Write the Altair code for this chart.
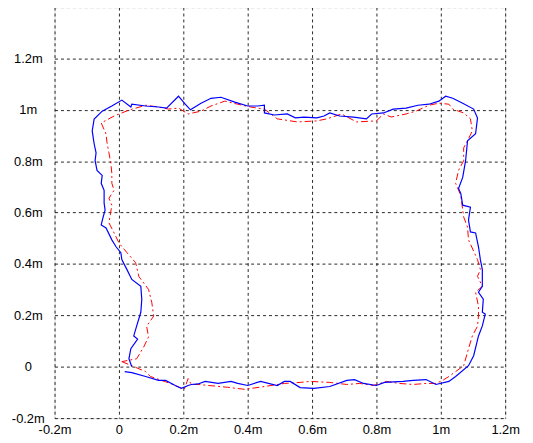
import altair as alt
import pandas as pd

# Blue (solid) trajectory, metres
blue_x = [0.018, 0.040, 0.083, 0.123, 0.145, 0.175, 0.194, 0.215, 0.225, 0.246, 0.268, 0.308, 0.348, 0.369, 0.400,
          0.440, 0.492, 0.514, 0.532, 0.563, 0.606, 0.655, 0.708, 0.732, 0.760, 0.800, 0.825, 0.883, 0.914, 0.954,
          0.985, 1.025, 1.046, 1.086, 1.102, 1.117, 1.129, 1.138, 1.129, 1.132, 1.117, 1.129, 1.129, 1.123, 1.117,
          1.108, 1.092, 1.086, 1.092, 1.068, 1.062, 1.055, 1.068, 1.077, 1.083, 1.108, 1.114, 1.102, 1.068, 1.037,
          1.015, 0.994, 0.963, 0.929, 0.892, 0.852, 0.822, 0.785, 0.769, 0.729, 0.686, 0.655, 0.637, 0.615, 0.575,
          0.548, 0.523, 0.483, 0.452, 0.452, 0.431, 0.400, 0.360, 0.317, 0.286, 0.255, 0.231, 0.222, 0.206, 0.185,
          0.148, 0.123, 0.083, 0.040, 0.037, 0.009, -0.022, -0.052, -0.077, -0.083, -0.077, -0.071, -0.074, -0.068,
          -0.052, -0.055, -0.046, -0.046, -0.043, -0.049, -0.055, -0.040, -0.022, -0.009, 0.006, 0.009, 0.025, 0.040,
          0.068, 0.071, 0.068, 0.055, 0.046, 0.058, 0.037, 0.031, 0.040]
blue_y = [-0.019, -0.023, -0.038, -0.053, -0.053, -0.073, -0.084, -0.073, -0.069, -0.067, -0.057, -0.065, -0.057,
          -0.065, -0.073, -0.057, -0.073, -0.057, -0.057, -0.081, -0.084, -0.077, -0.053, -0.050, -0.065, -0.073,
          -0.061, -0.057, -0.053, -0.050, -0.069, -0.057, -0.038, 0.004, 0.043, 0.120, 0.159, 0.205, 0.212, 0.263,
          0.290, 0.313, 0.378, 0.416, 0.467, 0.521, 0.525, 0.571, 0.621, 0.629, 0.675, 0.694, 0.737, 0.802, 0.880,
          0.907, 0.968, 1.003, 1.026, 1.045, 1.053, 1.034, 1.022, 1.018, 1.007, 1.003, 0.988, 0.984, 0.965, 0.972,
          0.976, 0.988, 0.976, 0.969, 0.972, 0.969, 0.984, 0.980, 0.988, 1.018, 1.015, 1.015, 1.030, 1.049, 1.045,
          1.026, 1.007, 1.000, 1.022, 1.053, 1.007, 1.011, 1.015, 1.022, 1.011, 1.038, 1.015, 0.995, 0.964, 0.918,
          0.868, 0.833, 0.802, 0.764, 0.745, 0.714, 0.687, 0.637, 0.610, 0.583, 0.552, 0.540, 0.494, 0.467, 0.444,
          0.417, 0.378, 0.340, 0.313, 0.263, 0.212, 0.158, 0.120, 0.108, 0.070, 0.031, 0.000]

# Red (dash-dot) trajectory, metres
red_x = [0.009, 0.040, 0.083, 0.098, 0.132, 0.160, 0.194, 0.203, 0.215, 0.225, 0.246, 0.338, 0.391, 0.452, 0.514,
         0.563, 0.594, 0.655, 0.708, 0.748, 0.791, 0.831, 0.871, 0.914, 0.954, 0.985, 1.006, 1.025, 1.046, 1.071,
         1.086, 1.098, 1.114, 1.117, 1.117, 1.108, 1.129, 1.114, 1.123, 1.114, 1.086, 1.083, 1.071, 1.062, 1.046,
         1.055, 1.071, 1.071, 1.083, 1.098, 1.092, 1.071, 1.037, 1.025, 0.994, 0.963, 0.923, 0.892, 0.846, 0.822,
         0.800, 0.738, 0.692, 0.646, 0.615, 0.554, 0.492, 0.452, 0.409, 0.369, 0.329, 0.286, 0.255, 0.215, 0.185,
         0.154, 0.123, 0.083, 0.031, -0.015, -0.055, -0.040, -0.037, -0.031, -0.025, -0.022, -0.022, -0.015, -0.031,
         -0.022, -0.031, -0.015, 0.000, 0.025, 0.052, 0.062, 0.092, 0.102, 0.108, 0.086, 0.092, 0.077, 0.055, 0.009]
red_y = [0.020, 0.004, -0.019, -0.038, -0.053, -0.065, -0.084, -0.088, -0.046, -0.069, -0.069, -0.080, -0.088,
         -0.077, -0.065, -0.061, -0.057, -0.061, -0.069, -0.065, -0.073, -0.057, -0.065, -0.069, -0.065, -0.065,
         -0.053, -0.038, -0.019, 0.004, 0.070, 0.120, 0.158, 0.197, 0.236, 0.290, 0.313, 0.352, 0.378, 0.417, 0.494,
         0.544, 0.583, 0.667, 0.714, 0.764, 0.802, 0.852, 0.880, 0.918, 0.965, 0.988, 1.003, 1.022, 1.026, 1.018,
         0.995, 0.984, 0.972, 0.984, 0.957, 0.953, 0.984, 0.965, 0.957, 0.953, 0.965, 1.003, 1.011, 1.022, 1.034,
         1.015, 0.995, 0.984, 1.007, 1.003, 1.011, 1.018, 0.999, 0.976, 0.949, 0.906, 0.872, 0.833, 0.791, 0.752,
         0.714, 0.687, 0.656, 0.629, 0.560, 0.521, 0.482, 0.444, 0.405, 0.351, 0.301, 0.251, 0.197, 0.158, 0.116,
         0.077, 0.031, 0.020]

x_ticks = [-0.2, 0, 0.2, 0.4, 0.6, 0.8, 1.0, 1.2]
y_ticks = [-0.2, 0, 0.2, 0.4, 0.6, 0.8, 1.0, 1.2, 1.4]

blue = pd.DataFrame({"x": blue_x, "y": blue_y, "i": range(len(blue_x))})
red = pd.DataFrame({"x": red_x, "y": red_y, "i": range(len(red_x))})

label_expr = "datum.value == 0 ? '0' : (datum.value > 1.3 ? '' : (round(datum.value*10)/10) + 'm')"

xs = alt.X("x:Q", scale=alt.Scale(domain=[-0.2, 1.2], nice=False, zero=False),
           axis=alt.Axis(values=x_ticks, labelExpr=label_expr, title=None, grid=True,
                         gridDash=[3, 3], gridColor="#000000", gridOpacity=0.85, ticks=False,
                         domain=False, labelFont="Liberation Sans", labelFontSize=13,
                         labelColor="#000000", labelPadding=6, labelFlush=False))
ys = alt.Y("y:Q", scale=alt.Scale(domain=[-0.2, 1.4], nice=False, zero=False),
           axis=alt.Axis(values=y_ticks, labelExpr=label_expr, title=None, grid=True,
                         gridDash=[3, 3], gridColor="#000000", gridOpacity=0.85, ticks=False,
                         domain=False, labelFont="Liberation Sans", labelFontSize=13,
                         labelColor="#000000", labelAlign="center", labelPadding=27,
                         labelFlush=False))

red_line = alt.Chart(red).mark_line(color="#ff0000", strokeWidth=1, strokeDash=[7, 3, 2, 3]).encode(
    x=xs, y=ys, order="i:Q")
blue_line = alt.Chart(blue).mark_line(color="#0000ff", strokeWidth=1.2).encode(
    x=xs, y=ys, order="i:Q")

chart = alt.layer(red_line, blue_line).properties(
    width=455, height=415,
    autosize=alt.AutoSizeParams(type="none"),
    padding={"left": 47, "top": -3, "right": 20, "bottom": 20},
).configure_view(stroke="#000000", strokeWidth=1.5).configure(background="#ffffff")

chart.save("out.html", embed_options={"renderer": "svg", "actions": False})
